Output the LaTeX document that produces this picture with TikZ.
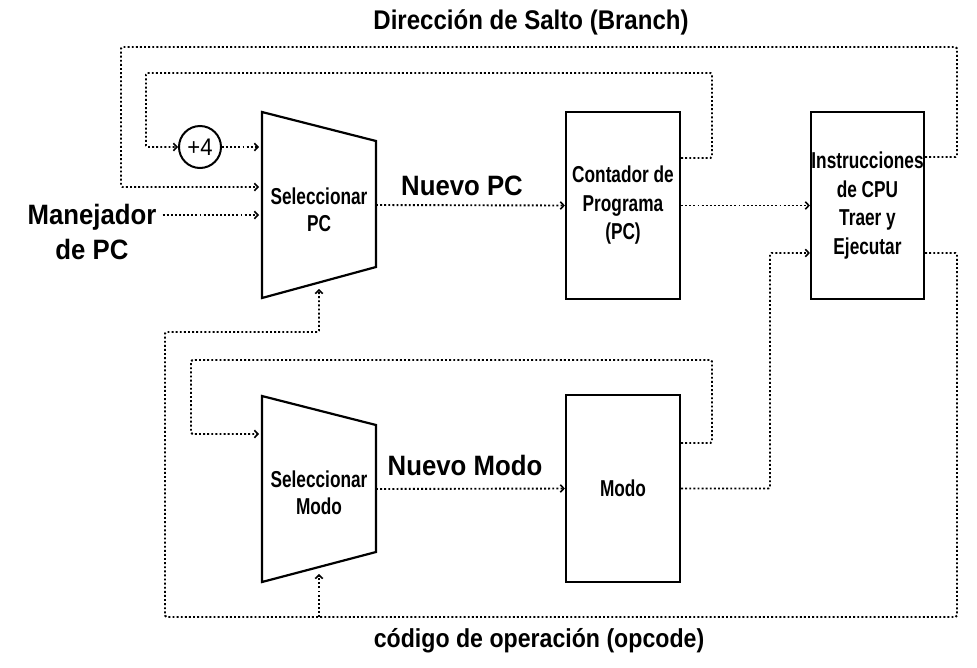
\documentclass[tikz,border=0pt]{standalone}
\usepackage{fontspec}
\setmainfont{Liberation Sans}
\newfontfamily\narrowf{Liberation Sans}[FakeStretch=0.75]
\newfontfamily\lblf{Liberation Sans}[FakeStretch=0.92]
\newfontfamily\capf{Liberation Sans}[FakeStretch=0.89]
\usetikzlibrary{arrows.meta}
\begin{document}
\begin{tikzpicture}[x=1pt,y=-1pt,
  blk/.style={draw,line width=2.2pt,minimum width=114pt,minimum height=187pt,inner sep=0pt,align=center,font=\narrowf\bfseries\fontsize{23}{28.5}\selectfont},
  trap/.style={draw,line width=2.2pt,line join=miter},
  ttext/.style={align=center,inner sep=0pt,font=\narrowf\bfseries\fontsize{23}{27}\selectfont},
  sig/.style={line width=1.9pt,dash pattern=on 1.9pt off 2.2pt,rounded corners=1.5pt},
  arr/.style={sig,-{Straight Barb[length=3.5pt,width=7.5pt,line width=1.6pt]}},
  lbl/.style={font=\lblf\bfseries\fontsize{28}{35}\selectfont,align=center,inner sep=0pt},
  captxt/.style={font=\capf\bfseries\fontsize{27}{28}\selectfont,inner sep=0pt}]
\useasboundingbox (0,0) rectangle (977,667);

% trapezoids
\draw[trap] (262,112) -- (376,141) -- (376,267) -- (262,298) -- cycle;
\draw[trap] (262,396) -- (376,425) -- (376,552) -- (262,582) -- cycle;
\node[ttext] (selpc) at (319,210) {Seleccionar\\PC};
\node[ttext] (selmodo) at (319,493) {Seleccionar\\Modo};
\coordinate (pcR) at (376,205);
\coordinate (mdR) at (376,489);

% boxes
\node[blk] (cont) at (623,205.5) {Contador de\\Programa\\(PC)};
\node[blk] (modo) at (623,488.5) {Modo};
\node[blk,minimum width=113pt] (instr) at (867.5,205.5) {Instrucciones\\de CPU\\Traer y\\Ejecutar};
\node[draw,circle,line width=2pt,minimum size=42pt,inner sep=0pt,font=\lblf\fontsize{24}{24}\selectfont] (plus) at (200,147) {+4};

% labels
\node[captxt] (title) at (531,22) {Dirección de Salto (Branch)};
\node[captxt,font=\capf\bfseries\fontsize{26}{28}\selectfont] (opc) at (539,641) {código de operación (opcode)};
\node[lbl] (npc) at (462,186) {Nuevo PC};
\node[lbl] (nmodo) at (465,465) {Nuevo Modo};
\node[lbl] (manej) at (92,232) {Manejador\\de PC};

% free ends
\coordinate (pcIn1) at (259,147);
\coordinate (pcIn2) at (259,187);
\coordinate (pcIn3) at (259,215);
\coordinate (pcBot) at (319,289);
\coordinate (mdIn) at (259,434);
\coordinate (mdBot) at (319,574);
\coordinate (junc) at (319,617);

% connectors
\draw[arr] (instr.east |- 0,157) -- (957,157) -- (957,47) -- (121,47) -- (121,187) -- (pcIn2);
\draw[arr] (cont.east |- 0,158) -- (712,158) -- (712,73) -- (146,73) -- (146,147) -- (plus.west);
\draw[arr] (manej.east |- 0,215) ++(6,0) -- (pcIn3);
\draw[arr] (plus.east) -- (pcIn1);
\draw[arr] (pcR) -- (cont.west);
\draw[arr] (cont.east) -- (instr.west);
\draw[arr] (modo.east) -- (770,488.5) -- (770,253) -- (instr.west |- 0,253);
\draw[arr] (instr.east |- 0,253) -- (957,253) -- (957,617) -- (165,617) -- (165,332) -- (319,332) -- (pcBot);
\draw[arr] (junc) -- (mdBot);
\draw[arr] (modo.east |- 0,443) -- (712,443) -- (712,360) -- (191,360) -- (191,434) -- (mdIn);
\draw[arr] (mdR) -- (modo.west);
\end{tikzpicture}
\end{document}
